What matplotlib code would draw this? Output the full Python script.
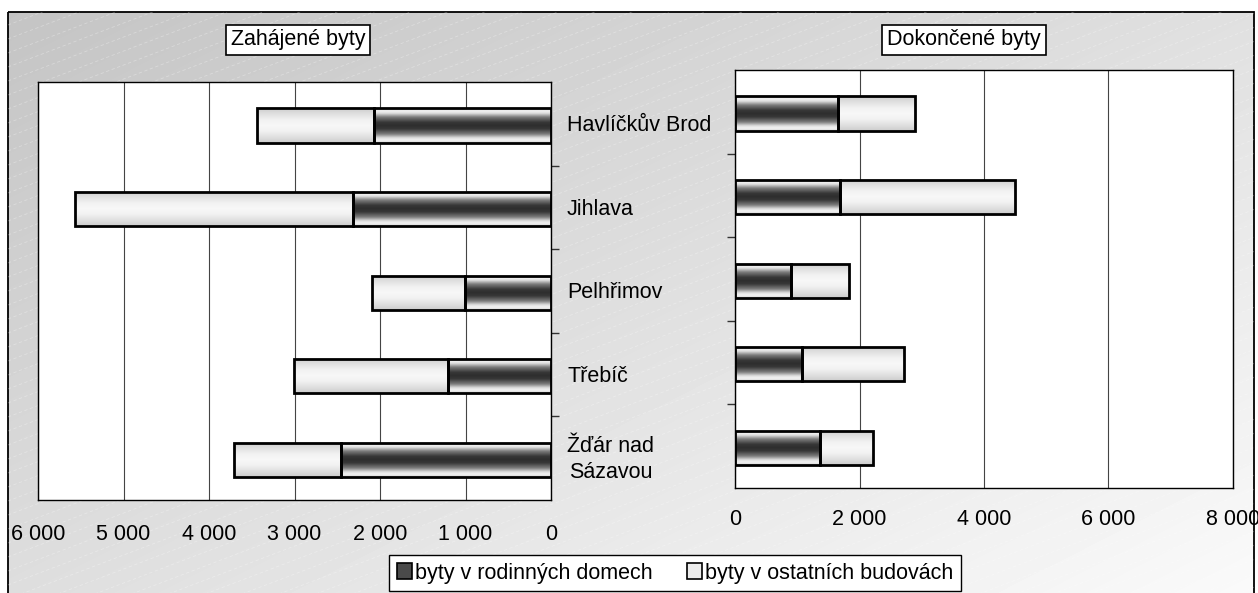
import numpy as np
import matplotlib
matplotlib.use("Agg")
import matplotlib.pyplot as plt
from matplotlib.patches import Rectangle, Patch
from matplotlib.ticker import FuncFormatter, FixedLocator

plt.rcParams['font.family'] = ['Liberation Sans', 'DejaVu Sans']

# ---------------- data ----------------
categories = ['Havlíčkův Brod', 'Jihlava', 'Pelhřimov', 'Třebíč', 'Žďár nad\nSázavou']
zahajene_rd = [2070, 2320, 1005, 1210, 2460]
zahajene_ost = [1370, 3250, 1090, 1800, 1250]
dokoncene_rd = [1660, 1690, 900, 1080, 1370]
dokoncene_ost = [1230, 2800, 930, 1640, 850]
series_names = ['byty v rodinných domech', 'byty v ostatních budovách']
titles = ['Zahájené byty', 'Dokončené byty']

W, H = 1258, 593
fig = plt.figure(figsize=(W / 100, H / 100), dpi=100)
fig.patch.set_facecolor('white')

# ---------------- background ----------------
FX0, FY0, FX1, FY1 = 8, 12, 1254, 600
bg = fig.add_axes([0, 0, 1, 1], zorder=-10)
bg.patch.set_alpha(0)
xx, yy = np.meshgrid(np.linspace(0, 1, 300), np.linspace(0, 1, 150))
grad = (196 + 28 * xx + 26 * yy) / 255.0
bg.imshow(grad, cmap='gray', vmin=0, vmax=1, extent=[FX0, FX1, FY1, FY0], aspect='auto',
          interpolation='bilinear')
frame = Rectangle((FX0, FY0), FX1 - FX0, FY1 - FY0, fill=False, ec='black', lw=1.3)
bg.add_patch(frame)
slope = -0.38
for c in np.arange(0, H + W * 0.4 + 20, 14):
    xs = np.array([FX0, FX1])
    ln, = bg.plot(xs, c + slope * xs, color='white', lw=0.6, alpha=0.3, ls=(0, (4, 3)))
    ln.set_clip_path(frame)
bg.set_xlim(0, W)
bg.set_ylim(H, 0)
bg.axis('off')

# ---------------- gradient helpers ----------------
N = 64
t = np.linspace(0, 1, N)
d = np.abs(t - 0.5) * 2
prof_dark = np.interp(d, [0, 0.2, 0.5, 0.72, 0.85, 1.0], [0.18, 0.22, 0.50, 0.88, 0.95, 0.84])
prof_light = np.interp(d, [0, 0.3, 0.8, 1.0], [0.97, 0.95, 0.85, 0.80])
profiles = [prof_dark, prof_light]


def grad_bars(ax, bars, prof):
    for b in bars:
        x0, y0 = b.get_x(), b.get_y()
        w, h = b.get_width(), b.get_height()
        im = ax.imshow(prof[:, None], cmap='gray', vmin=0, vmax=1,
                       extent=[x0, x0 + w, y0 + h, y0], aspect='auto',
                       interpolation='bilinear', zorder=2.5)
        im.set_clip_path(b)


fmt = FuncFormatter(lambda v, p: f"{int(v):,}".replace(',', ' '))
ypos = np.arange(len(categories))


def setup(ax, rd, ost, xmax, step, side):
    b1 = ax.barh(ypos + 0.02, rd, height=0.41, facecolor='none', edgecolor='black', lw=2.0, zorder=3)
    b2 = ax.barh(ypos + 0.02, ost, left=rd, height=0.41, facecolor='none', edgecolor='black', lw=2.0, zorder=3)
    grad_bars(ax, b1, profiles[0])
    grad_bars(ax, b2, profiles[1])
    ax.set_ylim(len(categories) - 0.5, -0.5)
    if side == 'left':
        ax.set_xlim(xmax, 0)
    else:
        ax.set_xlim(0, xmax)
    ax.set_xticks(np.arange(0, xmax + 1, step))
    ax.xaxis.set_major_formatter(fmt)
    ax.grid(axis='x', color='#444444', lw=0.8, zorder=1)
    ax.set_axisbelow(True)
    ax.tick_params(axis='x', length=0, labelsize=15.5, pad=17 if side == 'left' else 15)
    ax.yaxis.set_major_locator(FixedLocator(np.arange(0.5, len(categories) - 1, 1)))
    ax.set_yticklabels([])
    if side == 'left':
        ax.yaxis.tick_right()
    else:
        ax.yaxis.tick_left()
    ax.tick_params(axis='y', direction='out', length=6, width=1, color='#333333')
    for s in ax.spines.values():
        s.set_linewidth(1.0)
        s.set_color('black')
    ax.set_facecolor('white')


axL = fig.add_axes([38 / W, 1 - 500 / H, 513 / W, 418 / H])
setup(axL, zahajene_rd, zahajene_ost, 6000, 1000, 'left')
axR = fig.add_axes([735 / W, 1 - 488 / H, 498 / W, 418 / H])
setup(axR, dokoncene_rd, dokoncene_ost, 8000, 2000, 'right')

for i, cat in enumerate(categories):
    axL.text((567 - 38) / 513, i + 0.02, cat, transform=axL.get_yaxis_transform(),
             ha='left', va='center', fontsize=15.5, multialignment='center',
             linespacing=1.3)

box = dict(boxstyle='square,pad=0.22', fc='white', ec='black', lw=1.2)
fig.text(298 / W, 1 - 40 / H, titles[0], ha='center', va='center', fontsize=15.5, bbox=box)
fig.text(964 / W, 1 - 40 / H, titles[1], ha='center', va='center', fontsize=15.5, bbox=box)

handles = [Patch(facecolor='#4a4a4a', edgecolor='black', lw=1.2),
           Patch(facecolor='#ececec', edgecolor='black', lw=1.2)]
leg = fig.legend(handles, series_names, loc='center', bbox_to_anchor=(675 / W, 1 - 573 / H),
                 ncol=2, fontsize=15.5, frameon=True, fancybox=False, framealpha=1,
                 edgecolor='black', handlelength=0.7, handleheight=0.7, handletextpad=0.15,
                 columnspacing=1.6, borderpad=0.35, borderaxespad=0)
leg.get_frame().set_linewidth(1.0)

fig.savefig('out.png', dpi=100, facecolor='white')
